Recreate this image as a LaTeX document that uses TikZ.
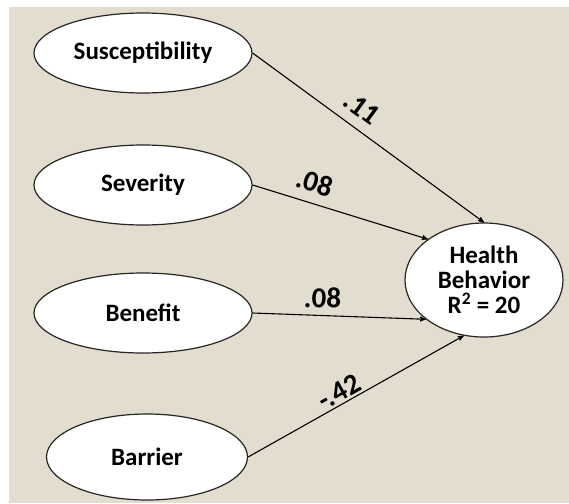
\documentclass[tikz,border=0pt]{standalone}
\usepackage{fontspec}
\setmainfont{Carlito}
\usetikzlibrary{arrows}
\usetikzlibrary{shapes}
\usetikzlibrary{shapes.geometric}
\definecolor{paper}{RGB}{226,221,206}
\tikzset{
  var/.style={
    draw=black!85,fill=white,ellipse,line width=1.2pt,inner sep=0pt,
    minimum width=218pt,minimum height=80pt,
    font=\bfseries\fontsize{25}{25}\selectfont,
  },
  wt/.style={line width=1.1pt},
  lbl/.style={font=\bfseries\fontsize{29}{29}\selectfont,inner sep=2pt,sloped},
}

\begin{document}
\begin{tikzpicture}[x=1pt,y=-1pt,>=stealth']
      \useasboundingbox (0,0) rectangle (569,503);
      \fill[white] (0,0) rectangle (569,503);
      \fill[paper] (9,7) rectangle (569,503);

      \node[var] (sus) at (143,53) {Susceptibility};
      \node[var,below of=sus,node distance=132pt] (sev) {Severity};
      \node[var,below of=sev,node distance=128pt] (ben) {Benefit};
      \node[var,below of=ben,node distance=144pt,xshift=4pt,
        minimum width=201pt,minimum height=86pt] (bar) {Barrier};
      \node[var,align=center,minimum width=158pt,minimum height=114pt] (hb)
        at (484,280) {Health\\Behavior\\R\textsuperscript{2} = 20};

      \path[->] (sus.east) edge[wt] node[lbl,pos=0.42,above=8pt] (w1) {.11} (hb.90);
      \path[->] (sev.east) edge[wt] node[lbl,pos=0.32,above=8pt] (w2) {.08} (hb.144);
      \path[->] (ben.east) edge[wt] node[lbl,pos=0.40,above=5pt] (w3) {.08} (hb.214);
      \path[->] (bar.east) edge[wt] node[lbl,pos=0.45,above=0pt] (w4) {-.42} (hb.250);
\end{tikzpicture}
\end{document}
